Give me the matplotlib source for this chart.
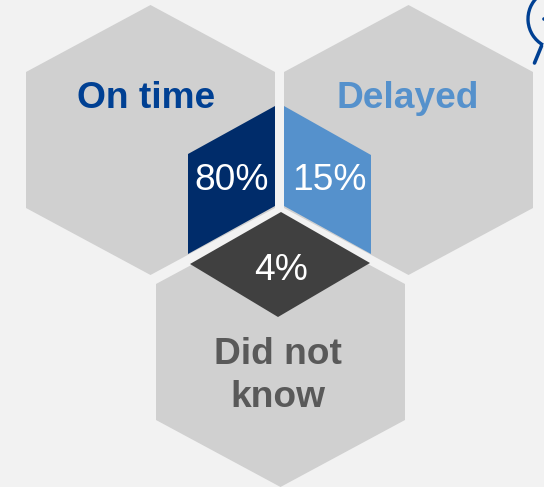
import matplotlib
matplotlib.use('Agg')
import matplotlib.pyplot as plt
from matplotlib.patches import Polygon, Arc, Circle

plt.rcParams['font.family'] = ['Liberation Sans', 'DejaVu Sans']

# data
categories = ['On time', 'Delayed', 'Did not\nknow']
percents = [80, 15, 4]

# colours
bg = '#F2F2F2'
hex_grey = '#D0D0D0'
inner_colors = ['#002C6A', '#5591CC', '#404040']
name_colors = ['#004093', '#5591CC', '#595959']

# big hexagons, centre x + top y in pixels
hex_x = [150.5, 408.5, 280.5]
hex_top = [5, 5, 217]
hex_w = 124.5
hex_h = 270
hex_step = 67

# inner shapes in pixels
inner = [
    [(275, 106), (188, 154), (188, 254), (275, 206)],
    [(284, 106), (371, 155), (371, 254), (284, 206)],
    [(281, 212), (370, 263), (278, 317), (190, 264)],
]

name_pos = [(146.5, 98.5), (408, 98.5), (278, 376)]
pct_pos = [(232, 181), (329, 181), (281, 271)]

fig = plt.figure(figsize=(5.44, 4.87), dpi=100, facecolor=bg)
ax = fig.add_axes([0, 0, 1, 1])
ax.set_xlim(0, 544)
ax.set_ylim(487, 0)
ax.axis('off')

for x, t in zip(hex_x, hex_top):
    pts = [(x, t), (x + hex_w, t + hex_step), (x + hex_w, t + hex_h - hex_step),
           (x, t + hex_h), (x - hex_w, t + hex_h - hex_step), (x - hex_w, t + hex_step)]
    ax.add_patch(Polygon(pts, closed=True, fc=hex_grey, ec='none'))

for pts, c in zip(inner, inner_colors):
    ax.add_patch(Polygon(pts, closed=True, fc=c, ec='none'))

for name, pos, c in zip(categories, name_pos, name_colors):
    ax.text(pos[0], pos[1], name, color=c, fontsize=26.7, fontweight='bold',
            ha='center', va='center', linespacing=1.3)

for p, pos in zip(percents, pct_pos):
    ax.text(pos[0], pos[1], f'{p}%', color='white', fontsize=26.7, ha='center', va='center')

# cut-off icon top right
icon = '#004093'
ax.add_patch(Arc((558, 19), 60, 60, theta1=120, theta2=230, color=icon, lw=2.4))
ax.plot([541.5, 534.5], [46, 63], color=icon, lw=2.6, solid_capstyle='round')
ax.add_patch(Circle((544, 19), 1.8, fc=icon, ec='none'))

fig.savefig('out.png', dpi=100, facecolor=bg)
